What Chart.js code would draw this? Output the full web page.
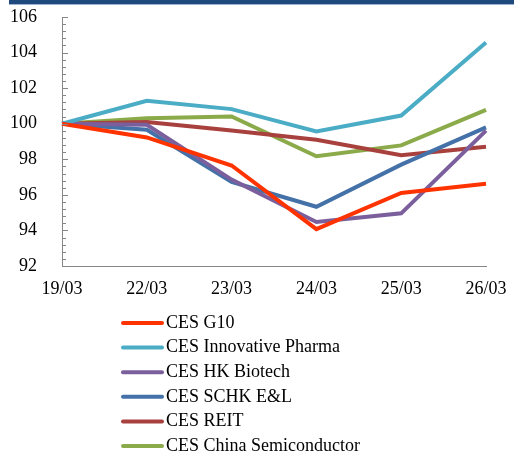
<!DOCTYPE html>
<html>
<head>
<meta charset="utf-8">
<script src="https://cdn.jsdelivr.net/npm/chart.js@4/dist/chart.umd.min.js"></script>
<style>
  html, body { margin: 0; padding: 0; background: #fff; }
  #wrap { position: relative; width: 514px; height: 457px; }
</style>
</head>
<body>
<div id="wrap"><canvas id="ces"></canvas></div>
<script>
const dates = ["19/03", "22/03", "23/03", "24/03", "25/03", "26/03"];
const seriesNames = ["CES G10", "CES Innovative Pharma", "CES HK Biotech", "CES SCHK E&L", "CES REIT", "CES China Semiconductor"];
const g10 = [100, 99.23, 97.65, 94.07, 96.11, 96.62];
const pharma = [100, 101.29, 100.82, 99.57, 100.46, 104.57];
const biotech = [100, 99.94, 96.86, 94.47, 94.96, 99.61];
const schk = [100, 99.66, 96.73, 95.33, 97.70, 99.79];
const reit = [100, 100.09, 99.62, 99.10, 98.23, 98.71];
const semi = [100, 100.31, 100.41, 98.17, 98.78, 100.78];
const yTicks = [92, 94, 96, 98, 100, 102, 104, 106];

const colors = ["#ff3300", "#4bacc6", "#7b5f9c", "#4472a8", "#a8413e", "#8baa4a"];
const values = [g10, pharma, biotech, schk, reit, semi];
const serif = "'Liberation Serif', 'Times New Roman', serif";

// inner minor/major ticks on the y axis, top banner and the legend
const decor = {
  id: "decor",
  afterDraw(chart) {
    const ctx = chart.ctx;
    const y = chart.scales.y;
    const x0 = chart.chartArea.left;
    ctx.save();
    ctx.fillStyle = "#1f497d";
    ctx.fillRect(9, 0, 505, 4);
    ctx.fillStyle = "#9db3cf";
    ctx.fillRect(9, 4, 505, 1);

    ctx.strokeStyle = "#868686";
    ctx.lineWidth = 1;
    for (let i = 0; i <= 35; i++) {
      const v = 92 + i * 0.4;
      const py = Math.round(y.getPixelForValue(v)) + 0.5;
      const len = i % 5 === 0 ? 6 : 4;
      ctx.beginPath();
      ctx.moveTo(x0, py);
      ctx.lineTo(x0 + len, py);
      ctx.stroke();
    }

    ctx.font = "18px " + serif;
    ctx.textBaseline = "middle";
    ctx.fillStyle = "#000";
    seriesNames.forEach((name, i) => {
      const ly = 323 + i * 24.6;
      ctx.strokeStyle = colors[i];
      ctx.lineWidth = 4;
      ctx.lineCap = "round";
      ctx.beginPath();
      ctx.moveTo(123, ly);
      ctx.lineTo(162, ly);
      ctx.stroke();
      ctx.fillText(name, 166, ly);
    });
    ctx.restore();
  }
};

new Chart(document.querySelector("#ces"), {
  type: "line",
  data: {
    labels: dates,
    datasets: seriesNames.map((name, i) => ({
      label: name,
      data: values[i],
      borderColor: colors[i],
      backgroundColor: colors[i],
      borderWidth: 4,
      pointRadius: 0,
      tension: 0,
    })),
  },
  options: {
    responsive: true,
    maintainAspectRatio: false,
    animation: false,
    layout: {
      padding: { left: 0, right: 28, top: 17, bottom: 152 },
    },
    plugins: {
      legend: { display: false },
      tooltip: { enabled: false },
    },
    scales: {
      x: {
        offset: false,
        grid: { display: false },
        border: { display: true, color: "#868686", width: 1 },
        ticks: {
          color: "#000",
          padding: 4,
          maxRotation: 0,
          font: { family: serif, size: 18 },
        },
        afterFit: (scale) => {
          scale.height = 39;
          scale.paddingLeft = 0;
          scale.paddingRight = 0;
        },
      },
      y: {
        min: 92,
        max: 106,
        grid: { display: false },
        border: { display: true, color: "#868686", width: 1 },
        afterBuildTicks: (scale) => {
          scale.ticks = yTicks.map((v) => ({ value: v }));
        },
        ticks: {
          color: "#000",
          padding: 17,
          font: { family: serif, size: 18 },
        },
        afterFit: (scale) => {
          scale.width = 62;
          scale.paddingTop = 0;
          scale.paddingBottom = 0;
        },
      },
    },
  },
  plugins: [decor],
});
</script>
</body>
</html>
